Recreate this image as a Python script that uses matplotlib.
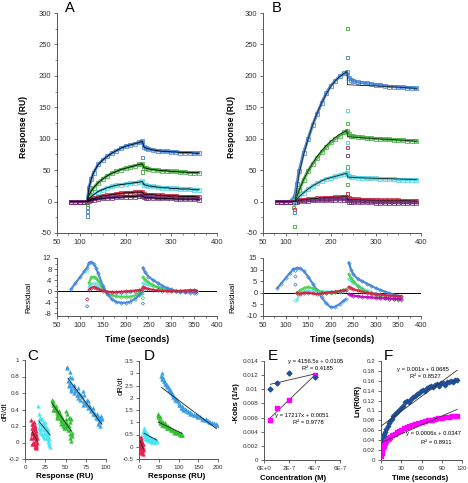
import numpy as np
import matplotlib.pyplot as plt
from matplotlib.ticker import MultipleLocator, FixedLocator, FuncFormatter

plt.rcParams['font.family'] = ['Liberation Sans', 'DejaVu Sans']
plt.rcParams['axes.unicode_minus'] = False

nan = np.nan

# ---- panel A sensorgram (RU) ----
t_a = [80, 90, 100, 110, 116, 120, 125, 130, 140, 150, 160, 170, 180, 190, 200, 210, 220, 230, 237,
       240, 245, 250, 260, 270, 280, 290, 300, 310, 320, 330, 340, 350, 360]
blue_a = [0, 0, 0, 0, 0, 22, 36, 46, 59, 66, 72, 77, 81, 85, 88, 90, 92, 94, 96,
          87, 85, 84, 82, 81, 80, 80, 79, 79, 78, 78, 78, 77, 77]
green_a = [0, 0, 0, 0, 0, 10, 17, 22, 30, 36, 41, 45, 48, 51, 53, 55, 57, 59, 60,
           54, 53, 52, 51, 50, 49, 49, 48, 48, 47, 47, 46, 46, 46]
cyan_a = [0, 0, 0, 0, 0, 4, 8, 11, 16, 19, 22, 24, 26, 27, 28, 29, 30, 31, 32,
          27, 26, 25, 24, 23, 22, 22, 21, 21, 20, 20, 20, 19, 19]
red_a = [0, 0, 0, 0, 0, 2, 4, 5, 7, 9, 10, 11, 12, 13, 14, 14, 15, 15, 15,
         12, 11, 11, 11, 10, 10, 9, 9, 9, 8, 8, 8, 8, 7]
purple_a = [0, 0, 0, 0, 0, 1, 2, 3, 4, 5, 6, 6, 7, 7, 8, 8, 8, 9, 9,
            7, 6, 6, 6, 5, 5, 5, 5, 4, 4, 4, 4, 4, 3]
out_a_t = [116, 116, 116, 117, 237, 237]
out_a_v = [-10, -16, -23, -4, 70, 47]
out_a_c = ['blue', 'blue', 'blue', 'green', 'blue', 'green']

# ---- panel B sensorgram (RU) ----
t_b = [80, 90, 100, 110, 120, 125, 130, 140, 150, 160, 170, 180, 190, 200, 210, 220, 230, 236,
       240, 245, 250, 260, 270, 280, 290, 300, 310, 320, 330, 340, 350, 360, 370, 380, 390]
blue_b = [0, 0, 0, 0, 8, 28, 48, 78, 100, 122, 140, 157, 172, 184, 192, 199, 204, 206,
          197, 194, 192, 190, 189, 188, 187, 186, 185, 184, 183, 183, 182, 182, 181, 181, 180]
green_b = [0, 0, 0, 0, 2, 10, 18, 35, 49, 60, 70, 79, 87, 94, 100, 105, 110, 113,
           107, 105, 104, 103, 102, 101, 101, 100, 100, 99, 99, 98, 98, 98, 97, 97, 96]
cyan_b = [0, 0, 0, 0, 1, 5, 8, 14, 20, 25, 29, 33, 36, 38, 40, 42, 44, 45,
          40, 39, 39, 38, 38, 37, 37, 37, 36, 36, 36, 36, 35, 35, 35, 35, 35]
red_b = [0, 0, 0, 0, 0, 1, 2, 3, 4, 4, 5, 5, 6, 6, 7, 7, 8, 8,
         5, 4, 4, 4, 3, 3, 3, 3, 2, 2, 2, 2, 2, 1, 1, 1, 1]
mag_b = [0, 0, 0, 0, 0, 0, 1, 1, 1, 2, 2, 2, 2, 2, 3, 3, 3, 3,
         0, 0, -1, -1, -1, -1, -1, -2, -2, -2, -2, -2, -2, -2, -2, -2, -2]
t_fit_b = [80, 121, 130, 140, 150, 160, 170, 180, 190, 200, 210, 220, 230, 236, 237, 260, 300, 350, 390]
blue_fit_b = [0, 0, 45, 75, 100, 122, 141, 157, 171, 183, 192, 199, 204, 207, 186, 185, 184, 182, 180]
green_fit_b = [0, 0, 18, 35, 49, 61, 72, 81, 89, 96, 102, 107, 111, 113, 103, 102, 100, 98, 96]
cyan_fit_b = [0, 0, 8, 14, 20, 25, 29, 33, 36, 38, 40, 42, 44, 45, 39, 38, 37, 36, 35]
red_fit_b = [0, 0, 2, 3, 4, 5, 5, 6, 6, 7, 7, 7, 8, 8, 3, 3, 2, 2, 1]
out_b_t = [237, 238, 237, 238, 237, 237, 237, 237, 238, 238, 238, 119, 119, 120, 118, 120]
out_b_v = [275, 229, 145, 124, 94, 86, 73, 55, 50, 27, 12, -39, -13, -17, -10, -3]
out_b_c = ['green', 'blue', 'cyan', 'green', 'cyan', 'red', 'purple', 'green', 'cyan', 'green', 'red',
           'green', 'red', 'blue', 'green', 'cyan']

# ---- residuals A ----
t_ra = [80, 90, 100, 110, 116, 120, 125, 130, 135, 140, 150, 160, 170, 180, 190, 200, 210, 220, 230,
        235, 236, 238, 242, 250, 260, 270, 280, 290, 300, 310, 320, 330, 340, 350, 355]
blue_ra = [0.6, 2.8, 5.0, 7.2, 8.5, 10.3, 10.5, 10.0, 8.5, 6.5, 2.0, -1.0, -3.0, -3.9, -4.2, -4.2, -3.8, -2.8, -1.5,
           -0.8, nan, 8.5, 7.0, 5.3, 4.0, 3.0, 2.0, 1.2, 0.6, 0.1, -0.2, -0.4, -0.5, -0.5, -0.5]
green_ra = [nan, nan, nan, nan, nan, 3.0, 5.0, 5.2, 4.8, 3.8, 1.0, -0.8, -1.5, -1.9, -2.0, -2.0, -2.0, -1.6, -0.6,
            0.0, nan, 5.0, 4.2, 3.2, 2.2, 1.4, 0.8, 0.4, 0.1, 0.0, 0.0, 0.0, 0.1, 0.1, 0.0]
cyan_ra = [nan, nan, nan, nan, nan, 1.5, 2.5, 2.8, 2.5, 1.8, 0.5, -0.3, -0.6, -0.8, -0.8, -0.6, -0.4, -0.2, 0.2,
           0.5, nan, 3.0, 2.6, 2.2, 1.8, 1.4, 1.0, 0.6, 0.3, 0.1, 0.0, 0.1, 0.2, 0.3, 0.2]
red_ra = [nan, nan, nan, nan, nan, 0.5, 1.2, 1.5, 1.2, 0.8, 0.2, -0.2, -0.3, -0.3, -0.2, -0.1, 0.0, 0.2, 0.4,
          0.6, nan, 1.5, 1.2, 0.8, 0.5, 0.3, 0.1, 0.0, -0.1, 0.0, 0.1, 0.2, 0.3, 0.3, 0.2]
out_ra_t = [116, 116, 116, 238, 238]
out_ra_v = [-3, -5.5, 7, -2.5, -4.5]
out_ra_c = ['red', 'blue', 'cyan', 'green', 'blue']

# ---- residuals B ----
t_rb = [82, 90, 100, 110, 117, 125, 132, 140, 150, 160, 170, 180, 190, 200, 210, 220, 228, 233, 236,
        240, 245, 250, 260, 270, 280, 290, 300, 310, 320, 330, 340, 350, 355]
blue_rb = [2.0, 4.0, 6.3, 8.6, 10.2, 10.6, 10.5, 9.5, 7.0, 4.0, 1.0, -2.0, -4.5, -6.2, -6.0, -4.8, -3.5, -2.8, nan,
           13.0, 10.0, 8.0, 6.0, 5.0, 4.0, 3.0, 2.0, 1.2, 0.5, -0.2, -0.8, -1.3, -1.6]
green_rb = [nan, nan, nan, nan, nan, 0.0, 1.0, 2.0, 2.5, 2.0, 1.0, 0.5, 0.0, 0.0, 0.3, 0.8, 1.0, 1.5, nan,
            8.0, 6.5, 5.0, 3.0, 1.5, 0.5, -0.5, -1.2, -1.8, -2.2, -2.5, -2.8, -3.0, -3.0]
cyan_rb = [nan, nan, nan, nan, nan, -3.0, 0.0, 0.5, 0.8, 0.8, 0.5, 0.5, 0.5, 0.5, 0.3, 0.5, 0.8, 1.0, nan,
           6.0, 5.0, 4.2, 3.0, 2.0, 1.0, 0.3, -0.3, -0.8, -1.2, -1.5, -1.8, -2.0, -2.0]
red_rb = [nan, nan, nan, nan, nan, 0.0, -0.5, 0.0, 0.0, -0.3, -0.5, -0.3, 0.0, 0.3, 0.5, 0.8, 1.0, 1.0, nan,
          2.5, 2.0, 1.5, 1.0, 0.5, 0.0, -0.3, -0.5, -0.8, -1.0, -1.2, -1.3, -1.5, -1.5]
mag_rb = [nan, nan, nan, nan, nan, nan, nan, nan, nan, nan, nan, nan, nan, nan, nan, nan, nan, nan, nan,
          -0.5, -1.0, -1.2, -1.5, -1.7, -1.9, -2.0, -2.2, -2.3, -2.4, -2.5, -2.6, -2.7, -2.7]
out_rb_t = [122, 122, 122, 122]
out_rb_v = [9.5, 7.0, 3.5, -3.5]
out_rb_c = ['blue', 'blue', 'blue', 'cyan']

# ---- panel C: dR/dt vs response ----
c_red_x = [8, 9, 9, 10, 10, 11, 11, 12, 12, 13, 13, 14, 14, 15, 9, 10, 12, 13, 11, 14,
           8, 9, 10, 11, 12, 13, 14, 15, 10, 12, 14, 9, 11, 13]
c_red_y = [0.27, 0.18, 0.10, 0.22, 0.05, 0.15, 0.00, 0.12, 0.08, 0.02, -0.04, 0.06, -0.06, 0.0,
           0.13, 0.11, 0.17, 0.09, -0.02, 0.03,
           0.05, -0.02, 0.0, 0.08, -0.05, 0.14, 0.1, 0.05, 0.18, 0.2, -0.03, 0.22, 0.25, -0.07]
c_cyan_x = [16, 17, 17, 18, 19, 20, 21, 22, 23, 24, 25, 26, 27, 28, 29, 30, 31, 18, 22, 26,
            17, 18, 19, 20, 21, 23, 24, 25, 27, 28, 29, 30, 19, 21, 24, 26, 28, 30]
c_cyan_y = [0.44, 0.35, 0.25, 0.30, 0.22, 0.28, 0.20, 0.24, 0.15, 0.18, 0.20, 0.12, 0.10, 0.05,
            0.02, -0.03, -0.05, 0.15, 0.08, 0.16,
            0.18, 0.22, 0.12, 0.16, 0.28, 0.22, 0.05, 0.25, 0.18, 0.12, 0.08, 0.04, 0.3, 0.1, 0.1,
            0.05, 0.15, 0.0]
c_green_x = [33, 34, 35, 36, 37, 38, 39, 40, 41, 42, 43, 44, 45, 46, 47, 48, 49, 50, 51, 52, 53,
             54, 55, 56, 57, 58, 40, 45, 50, 55,
             34, 36, 38, 40, 42, 44, 46, 48, 50, 52, 54, 56, 58, 35, 39, 43, 47, 51, 55, 57]
c_green_y = [0.52, 0.48, 0.45, 0.46, 0.40, 0.42, 0.38, 0.36, 0.33, 0.35, 0.30, 0.32, 0.28, 0.25,
             0.27, 0.22, 0.24, 0.20, 0.18, 0.35, 0.15, 0.20, 0.10, 0.05, 0.02, 0.12, 0.30, 0.22, 0.28, 0.30,
             0.5, 0.42, 0.44, 0.4, 0.38, 0.26, 0.3, 0.18, 0.25, 0.22, 0.3, 0.25, 0.08, 0.4, 0.32,
             0.35, 0.2, 0.38, 0.15, 0.28]
c_blue_x = [52, 53, 54, 55, 56, 57, 58, 60, 62, 63, 65, 67, 68, 70, 72, 73, 75, 77, 78, 80, 82,
            83, 85, 86, 88, 89, 90, 91, 92, 93, 94, 52, 54, 57,
            55, 58, 61, 64, 66, 69, 71, 74, 76, 79, 81, 84, 87, 90, 92, 60, 66, 72, 78, 84, 90, 95]
c_blue_y = [0.90, 0.75, 0.70, 0.80, 0.72, 0.65, 0.68, 0.60, 0.64, 0.62, 0.57, 0.60, 0.52, 0.55,
            0.50, 0.58, 0.47, 0.45, 0.42, 0.43, 0.38, 0.40, 0.36, 0.33, 0.30, 0.35, 0.28, 0.25,
            0.30, 0.20, 0.32, 0.92, 0.68, 0.62,
            0.85, 0.78, 0.66, 0.58, 0.66, 0.58, 0.62, 0.48, 0.52, 0.46, 0.4, 0.42, 0.34, 0.32, 0.26,
            0.7, 0.54, 0.45, 0.5, 0.35, 0.22, 0.28]
c_fit_x = [[9, 15], [17, 31], [33, 57], [53, 95]]
c_fit_y = [[0.13, 0.02], [0.26, 0.09], [0.48, 0.14], [0.78, 0.22]]

# ---- panel D ----
d_red_x = [3, 4, 5, 5, 6, 7, 7, 8, 9, 10, 4, 6, 8, 10, 11, 5, 9, 2, 3, 4, 5, 6, 7, 8, 4, 6]
d_red_y = [0.35, 0.2, 0.1, 0.3, 0.0, 0.15, -0.1, 0.05, -0.15, -0.05, -0.25, -0.2, 0.2, 0.1, -0.1,
           0.4, -0.3, -0.05, 0.1, 0.25, -0.15, 0.3, -0.2, 0.1, 0.05, 0.15]
d_cyan_x = [12, 13, 14, 15, 16, 17, 18, 20, 22, 24, 26, 28, 30, 32, 34, 36, 38, 40, 42, 44,
            15, 20, 25, 30, 35, 40, 11, 13, 16, 19, 21, 23, 27, 29, 33, 37, 41, 45]
d_cyan_y = [0.75, 0.5, 0.6, 0.45, 0.65, 0.4, 0.5, 0.35, 0.45, 0.3, 0.4, 0.3, 0.35, 0.25, 0.3,
            0.22, 0.28, 0.2, 0.25, 0.2, 0.3, 0.28, 0.25, 0.2, 0.2, 0.3,
            0.6, 0.7, 0.55, 0.55, 0.4, 0.38, 0.32, 0.4, 0.28, 0.3, 0.22, 0.25]
d_green_x = [48, 50, 52, 54, 56, 58, 60, 63, 66, 70, 74, 78, 82, 86, 90, 94, 98, 102, 106, 110,
             50, 55, 60, 65, 70, 80, 90, 100, 47, 49, 53, 57, 62, 68, 72, 76, 84, 88, 92, 96, 104, 108]
d_green_y = [1.35, 1.1, 1.2, 0.95, 1.05, 0.9, 1.0, 0.85, 0.95, 0.8, 0.85, 0.75, 0.72, 0.68, 0.65,
             0.6, 0.62, 0.55, 0.58, 0.5, 1.25, 0.98, 0.88, 0.9, 0.78, 0.7, 0.58, 0.52,
             1.3, 1.2, 1.05, 1.0, 0.92, 0.88, 0.75, 0.78, 0.7, 0.62, 0.6, 0.55, 0.5, 0.48]
d_blue_x = [57, 58, 60, 62, 64, 66, 68, 70, 72, 75, 78, 81, 84, 87, 90, 93, 96, 100, 104, 108, 112,
            116, 120, 125, 130, 135, 140, 145, 150, 155, 160, 165, 170, 175, 180, 185, 190, 195, 198,
            56, 59, 63, 67, 71, 76, 80, 85, 90, 95, 100, 106, 112, 118, 124, 130, 138, 146, 154, 162,
            170, 178, 186, 194]
d_blue_y = [3.0, 2.85, 2.8, 2.75, 2.7, 2.62, 2.58, 2.5, 2.45, 2.4, 2.3, 2.25, 2.15, 2.1, 2.0, 1.95,
            1.9, 1.8, 1.72, 1.65, 1.6, 1.55, 1.5, 1.45, 1.4, 1.35, 1.3, 1.28, 1.25, 1.2, 1.15, 1.1,
            1.08, 1.05, 1.0, 0.98, 0.95, 0.9, 0.88,
            2.9, 2.75, 2.68, 2.55, 2.52, 2.32, 2.25, 2.05, 1.92, 1.85, 1.7, 1.6, 1.5, 1.45, 1.4, 1.32,
            1.3, 1.22, 1.2, 1.15, 1.12, 1.02, 0.95, 0.92]
d_fit_x = [[3, 11], [13, 45], [50, 108], [57, 196]]
d_fit_y = [[0.25, -0.1], [0.55, 0.27], [1.0, 0.55], [2.42, 0.74]]

# ---- panel E: -Kobs vs concentration ----
e_conc = [5e-8, 1e-7, 2e-7, 4e-7]
e_blue = [0.0101, 0.0109, 0.0123, 0.0118]
e_mag = [0.0056, 0.0074, 0.0085, 0.0120]
e_slope = [4156.5, 17217]
e_icpt = [0.0105, 0.0051]

# ---- panel F: Ln(R0/R) vs time ----
f_blue_t = [1, 2, 3, 4, 5, 6, 8, 10, 12, 14, 16, 18, 20, 23, 26, 29, 32, 35, 38, 41, 44, 47, 50,
            53, 56, 59, 62, 65, 68, 71, 74, 77, 80, 83, 86, 89, 92, 95, 98, 101, 104, 107, 110, 113]
f_blue = [0.030, 0.036, 0.042, 0.048, 0.052, 0.056, 0.062, 0.068, 0.074, 0.078, 0.083, 0.088, 0.092,
          0.097, 0.102, 0.106, 0.110, 0.118, 0.120, 0.118, 0.124, 0.128, 0.130, 0.133, 0.136, 0.139,
          0.142, 0.140, 0.146, 0.148, 0.150, 0.148, 0.152, 0.153, 0.150, 0.155, 0.156, 0.152, 0.157,
          0.158, 0.160, 0.158, 0.161, 0.162]
f_mag_t = [0, 1, 2, 3, 4, 5, 6, 8, 10, 12, 14, 17, 20, 23, 26, 30, 34, 38, 42, 46, 50, 55, 60, 65,
           70, 75, 80, 85, 90, 95, 100, 105, 110, 113]
f_mag = [0.008, 0.015, 0.021, 0.026, 0.029, 0.032, 0.035, 0.039, 0.042, 0.045, 0.047, 0.050, 0.053,
         0.056, 0.058, 0.061, 0.064, 0.066, 0.068, 0.070, 0.072, 0.074, 0.076, 0.078, 0.080, 0.081,
         0.082, 0.084, 0.085, 0.086, 0.087, 0.088, 0.088, 0.089]
f_slope = [0.001, 0.0006]
f_icpt = [0.0685, 0.0347]

col = {'blue': '#3c7dd0', 'green': '#3aaa35', 'cyan': '#45d0e0', 'red': '#c8203c',
       'purple': '#6a2a7a', 'magenta': '#c020c0'}
rcol = {'blue': '#3a82dc', 'green': '#44d044', 'cyan': '#66e2f0', 'red': '#d02040', 'magenta': '#c000c0'}
lcol = {'red': '#e8204c', 'cyan': '#48e6f4', 'green': '#34c034', 'blue': '#38a0e8'}

W, H = 468, 483
fig = plt.figure(figsize=(W / 100, H / 100), dpi=100)


def add_ax(l, t, r, b):
    return fig.add_axes([l / W, 1 - b / H, (r - l) / W, (b - t) / H])


def ftext(x, y, s, **kw):
    fig.text(x / W, 1 - y / H, s, ha='center', va='center', **kw)


def style(ax, size):
    for s in ['top', 'right']:
        ax.spines[s].set_visible(False)
    for s in ['left', 'bottom']:
        ax.spines[s].set_color('#555555')
        ax.spines[s].set_linewidth(0.7)
    ax.tick_params(which='major', labelsize=size, length=2.5, width=0.6, pad=1.5,
                   color='#555555', labelcolor='#333333')
    ax.tick_params(which='minor', length=1.5, width=0.5, color='#555555')


fmt_g = FuncFormatter(lambda v, p: f'{v:g}')


# ----- A and B main -----
def sensorgram(ax, t, series, outt, outv, outc):
    for v, c in series:
        ax.plot(t, v, color=col[c], lw=2.2, alpha=0.85, marker='s', ms=2.6, mfc='none', mew=0.6, zorder=2)
    ax.scatter(outt, outv, marker='s', s=5, facecolors='none',
               edgecolors=[col[c] for c in outc], linewidths=0.6, zorder=3)
    ax.set_xlim(50, 400)
    ax.set_ylim(-50, 300)
    ax.yaxis.set_major_locator(MultipleLocator(50))
    ax.yaxis.set_minor_locator(MultipleLocator(25))
    ax.xaxis.set_major_locator(FixedLocator([50, 100, 200, 300, 400]))
    ax.xaxis.set_minor_locator(MultipleLocator(25))
    style(ax, 5.5)


axA = add_ax(57, 13, 217, 233)
sensorgram(axA, t_a, [(blue_a, 'blue'), (green_a, 'green'), (cyan_a, 'cyan'), (red_a, 'red'),
                      (purple_a, 'purple')], out_a_t, out_a_v, out_a_c)
for v in [blue_a, green_a, cyan_a, red_a, purple_a]:
    axA.plot(t_a, v, color='black', lw=0.6, zorder=4)

axB = add_ax(263, 13, 421, 233)
sensorgram(axB, t_b, [(blue_b, 'blue'), (green_b, 'green'), (cyan_b, 'cyan'), (red_b, 'red'),
                      (mag_b, 'purple')], out_b_t, out_b_v, out_b_c)
for v in [blue_fit_b, green_fit_b, cyan_fit_b, red_fit_b]:
    axB.plot(t_fit_b, v, color='#222222', lw=0.6, zorder=4)


# ----- residuals -----
def residual(ax, t, series, outt, outv, outc):
    ax.axhline(0, color='black', lw=0.7, zorder=1)
    for v, c in series:
        ax.plot(t, v, color=rcol[c], lw=1.6, alpha=0.9, marker='D', ms=1.8, mfc='none', mew=0.5, zorder=2)
    ax.scatter(outt, outv, marker='D', s=3, facecolors='none',
               edgecolors=[rcol[c] for c in outc], linewidths=0.5, zorder=3)
    ax.set_xlim(50, 400)
    ax.xaxis.set_major_locator(MultipleLocator(50))
    ax.xaxis.set_minor_locator(MultipleLocator(25))
    style(ax, 5.5)


axRA = add_ax(57, 258, 217, 316)
residual(axRA, t_ra, [(cyan_ra, 'cyan'), (green_ra, 'green'), (blue_ra, 'blue'), (red_ra, 'red')],
         out_ra_t, out_ra_v, out_ra_c)
axRA.set_ylim(-9, 12)
axRA.yaxis.set_major_locator(FixedLocator([-8, -4, 0, 4, 8, 12]))
axRA.yaxis.set_minor_locator(MultipleLocator(2))

axRB = add_ax(263, 258, 421, 316)
residual(axRB, t_rb, [(blue_rb, 'blue'), (cyan_rb, 'cyan'), (green_rb, 'green'), (red_rb, 'red'),
                      (mag_rb, 'magenta')], out_rb_t, out_rb_v, out_rb_c)
axRB.set_ylim(-10, 15)
axRB.yaxis.set_major_locator(MultipleLocator(5))

# ----- C -----
axC = add_ax(25, 360, 106, 459)
for x, y, c in [(c_red_x, c_red_y, 'red'), (c_cyan_x, c_cyan_y, 'cyan'),
                (c_green_x, c_green_y, 'green'), (c_blue_x, c_blue_y, 'blue')]:
    axC.scatter(x, y, marker='^', s=7, color=lcol[c], linewidths=0.3, zorder=2)
for fx, fy in zip(c_fit_x, c_fit_y):
    axC.plot(fx, fy, color='#222222', lw=0.6, zorder=3)
axC.set_xlim(0, 100)
axC.set_ylim(-0.2, 1.0)
axC.xaxis.set_major_locator(MultipleLocator(25))
axC.yaxis.set_major_locator(MultipleLocator(0.2))
axC.yaxis.set_major_formatter(fmt_g)
style(axC, 4.5)

# ----- D -----
axD = add_ax(139, 361, 218, 459)
for x, y, c in [(d_red_x, d_red_y, 'red'), (d_cyan_x, d_cyan_y, 'cyan'),
                (d_green_x, d_green_y, 'green'), (d_blue_x, d_blue_y, 'blue')]:
    axD.scatter(x, y, marker='^', s=7, color=lcol[c], linewidths=0.3, zorder=2)
for fx, fy in zip(d_fit_x, d_fit_y):
    axD.plot(fx, fy, color='#222222', lw=0.6, zorder=3)
axD.set_xlim(0, 200)
axD.set_ylim(-0.5, 3.5)
axD.xaxis.set_major_locator(MultipleLocator(50))
axD.yaxis.set_major_locator(MultipleLocator(0.5))
axD.yaxis.set_major_formatter(fmt_g)
style(axD, 4.5)

# ----- E -----
axE = add_ax(264, 361, 340, 460)
e_x = np.array([e_conc[0], e_conc[-1]])
for m, b in zip(e_slope, e_icpt):
    axE.plot(e_x, m * e_x + b, color='#333333', lw=0.6, zorder=1)
axE.scatter(e_conc, e_blue, marker='D', s=6, color='#1f4e96', zorder=3)
axE.scatter(e_conc, e_mag, marker='s', s=8, color='#ff00ff', zorder=2)
axE.set_xlim(0, 6e-7)
axE.set_ylim(0, 0.014)
axE.xaxis.set_major_locator(FixedLocator([0, 2e-7, 4e-7, 6e-7]))
axE.set_xticklabels(['0E+0', '2E-7', '4E-7', '6E-7'])
axE.yaxis.set_major_locator(MultipleLocator(0.002))
axE.yaxis.set_major_formatter(fmt_g)
style(axE, 4.5)

# ----- F -----
axF = add_ax(381, 361, 462, 460)
f_x = np.array([0, 113])
for m, b in zip(f_slope, f_icpt):
    axF.plot(f_x, m * f_x + b, color='#333333', lw=0.6, zorder=3)
axF.scatter(f_blue_t, f_blue, marker='D', s=5, color='#1f4e96', zorder=2)
axF.scatter(f_mag_t, f_mag, marker='s', s=6, color='#ff00ff', zorder=2)
axF.set_xlim(0, 120)
axF.set_ylim(0, 0.2)
axF.xaxis.set_major_locator(MultipleLocator(30))
axF.yaxis.set_major_locator(MultipleLocator(0.02))
axF.yaxis.set_major_formatter(fmt_g)
style(axF, 4.5)

# ----- text -----
ftext(70, 8, 'A', fontsize=10.5)
ftext(277, 8, 'B', fontsize=10.5)
ftext(33, 356, 'C', fontsize=11)
ftext(149, 356, 'D', fontsize=11)
ftext(273, 356, 'E', fontsize=11)
ftext(388, 356, 'F', fontsize=11)

ftext(24, 127, 'Response (RU)', fontsize=6.2, fontweight='bold', rotation=90)
ftext(232, 127, 'Response (RU)', fontsize=6.2, fontweight='bold', rotation=90)
ftext(29, 297, 'Residual', fontsize=5.8, rotation=90)
ftext(233, 297, 'Residual', fontsize=5.8, rotation=90)
ftext(137, 339, 'Time (seconds)', fontsize=6.3, fontweight='bold')
ftext(342, 339, 'Time (seconds)', fontsize=6.3, fontweight='bold')

ftext(5, 412, 'dR/dt', fontsize=5.6, rotation=90)
ftext(121, 386, 'dR/dt', fontsize=5.6, rotation=90)
ftext(237, 403, '-Kobs (1/s)', fontsize=5.6, fontweight='bold', rotation=90)
ftext(358, 401, 'Ln(R0/R)', fontsize=5.6, fontweight='bold', rotation=90)
ftext(65, 477, 'Response (RU)', fontsize=5.8, fontweight='bold')
ftext(177, 477, 'Response (RU)', fontsize=5.8, fontweight='bold')
ftext(293, 478, 'Concentration (M)', fontsize=5.6, fontweight='bold')
ftext(420, 478, 'Time (seconds)', fontsize=5.6, fontweight='bold')

ftext(316, 361, 'y = 4156.5x + 0.0105', fontsize=4.2)
ftext(317, 369, 'R² = 0.4185', fontsize=4.2)
ftext(302, 415, 'y = 17217x + 0.0051', fontsize=4.2)
ftext(308, 423, 'R² = 0.9778', fontsize=4.2)
ftext(423, 369, 'y = 0.001x + 0.0685', fontsize=4.2)
ftext(425, 377, 'R² = 0.8527', fontsize=4.2)
ftext(433, 433, 'y = 0.0006x + 0.0347', fontsize=4.2)
ftext(436, 443, 'R² = 0.8911', fontsize=4.2)

fig.savefig('out.png', dpi=100)
